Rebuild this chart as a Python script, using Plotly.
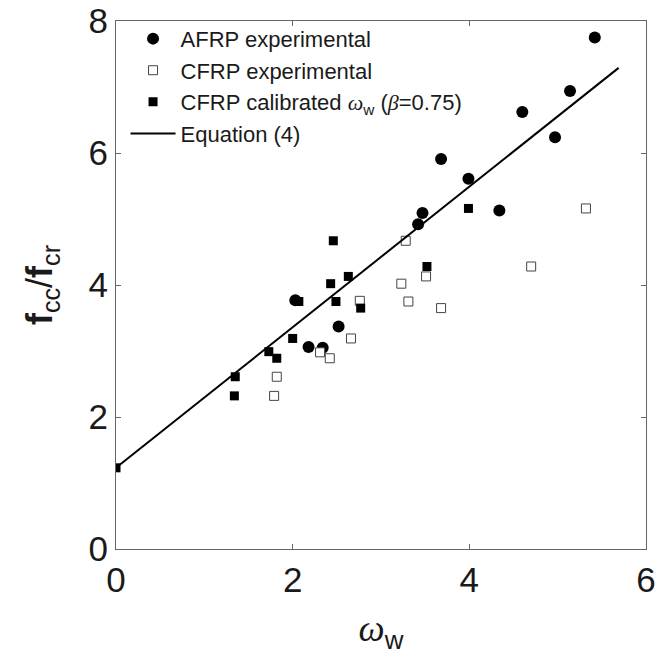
import plotly.graph_objects as go

# AFRP experimental (filled circles)
afrp_x = [5.42, 5.14, 4.60, 4.97, 3.68, 3.99, 4.34, 3.47, 3.42, 2.03, 2.18, 2.34, 2.52]
afrp_y = [7.75, 6.94, 6.62, 6.24, 5.91, 5.61, 5.13, 5.09, 4.92, 3.77, 3.06, 3.05, 3.37]

# CFRP experimental (open squares)
cfrp_exp_x = [1.82, 1.79, 2.31, 2.42, 2.76, 2.66, 5.32, 3.28, 4.70, 3.51, 3.23, 3.31, 3.68]
cfrp_exp_y = [2.61, 2.32, 2.98, 2.89, 3.76, 3.19, 5.16, 4.67, 4.28, 4.13, 4.02, 3.75, 3.65]

# CFRP calibrated omega_w (filled squares)
cfrp_cal_x = [0.00, 1.35, 1.34, 1.73, 1.82, 2.00, 2.07, 2.46, 2.43, 2.63, 2.49, 2.77, 3.99, 3.52]
cfrp_cal_y = [1.23, 2.61, 2.32, 2.99, 2.89, 3.19, 3.75, 4.67, 4.02, 4.13, 3.75, 3.65, 5.16, 4.28]

# Equation (4) line endpoints
eq_x = [0.0, 5.69]
eq_y = [1.23, 7.29]

x_ticks = [0, 2, 4, 6]
y_ticks = [0, 2, 4, 6, 8]

omega = '<span style="font-family:Liberation Serif"><i>ω</i></span>'
beta = '<span style="font-family:Liberation Serif"><i>β</i></span>'

fig = go.Figure()
fig.add_trace(go.Scatter(x=afrp_x, y=afrp_y, mode="markers", name="AFRP experimental",
                         marker=dict(symbol="circle", size=12, color="black", line=dict(width=0))))
fig.add_trace(go.Scatter(x=cfrp_exp_x, y=cfrp_exp_y, mode="markers", name="CFRP experimental",
                         marker=dict(symbol="square", size=9, color="white", line=dict(width=1, color="#444"))))
fig.add_trace(go.Scatter(x=cfrp_cal_x, y=cfrp_cal_y, mode="markers",
                         name="CFRP calibrated " + omega + "<sub>w</sub> (" + beta + "=0.75)",
                         marker=dict(symbol="square", size=9, color="black", line=dict(width=0))))
fig.add_trace(go.Scatter(x=eq_x, y=eq_y, mode="lines", name="Equation (4)",
                         line=dict(color="black", width=2)))

font_family = "Liberation Sans, Arial, sans-serif"
axis_common = dict(showgrid=False, zeroline=False, showline=True, linecolor="#666", linewidth=1,
                   mirror="ticks", ticks="inside", ticklen=5, tickcolor="#666", automargin=False,
                   tickfont=dict(size=35, color="#1a1a1a", family=font_family))

fig.update_layout(
    width=656, height=654,
    margin=dict(l=116, r=10, t=21, b=105),
    paper_bgcolor="white", plot_bgcolor="white",
    font=dict(family=font_family, color="#1a1a1a"),
    xaxis=dict(range=[0, 6], tickvals=x_ticks,
               title=dict(text=omega + "<sub>w</sub>", font=dict(size=37, family=font_family), standoff=18),
               **axis_common),
    yaxis=dict(range=[0, 8], tickvals=y_ticks,
               title=dict(text="<b>f</b><sub>cc</sub>/<b>f</b><sub>cr</sub>", font=dict(size=36, family=font_family), standoff=24),
               **axis_common),
    legend=dict(x=0.018, y=1.006, xanchor="left", yanchor="top", bgcolor="rgba(0,0,0,0)",
                font=dict(size=22, family=font_family, color="#1a1a1a"), itemwidth=45,
                tracegroupgap=0),
    showlegend=True,
)

fig.write_html("out.html")
